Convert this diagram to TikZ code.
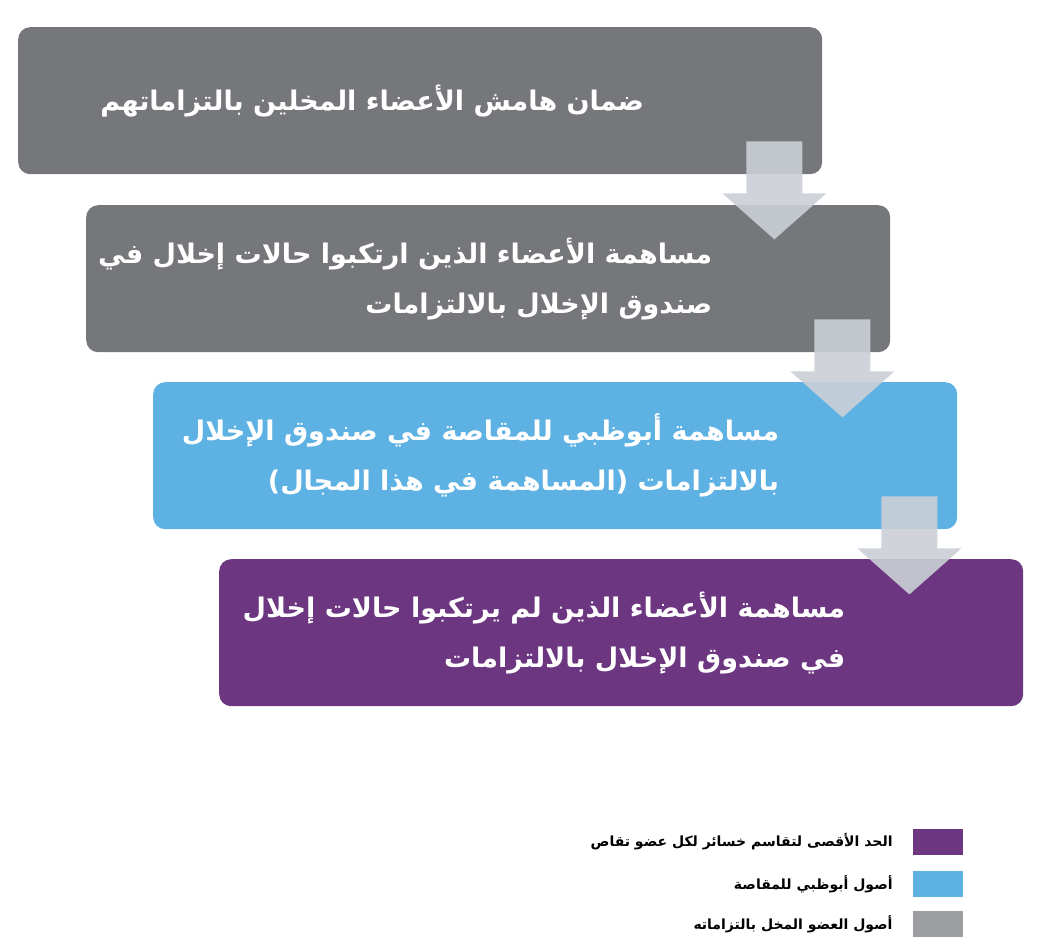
\documentclass[tikz,border=0pt]{standalone}
\usepackage{fontspec}
\newfontfamily\arabicfont[Script=Arabic]{DejaVu Sans}
\TeXXeTstate=1
\usetikzlibrary{positioning,calc}
\definecolor{stagegray}{HTML}{76777B}
\definecolor{stageblue}{HTML}{5EB1E3}
\definecolor{stagepurple}{HTML}{6C3681}
\definecolor{keygray}{HTML}{9D9EA2}
\definecolor{arrowgray}{HTML}{CBCFD6}
\tikzset{
  stage/.style={fill=#1, rounded corners=12pt, minimum width=804pt, minimum height=147pt, anchor=north west, inner sep=0pt},
  stagetext/.style={text=white, align=right, inner sep=0pt, font=\arabicfont\bfseries\fontsize{27}{50}\selectfont},
  flowarrow/.style={fill=arrowgray, fill opacity=0.9},
  keybox/.style={fill=#1, minimum width=50pt, minimum height=26pt, inner sep=0pt},
  keytext/.style={inner sep=0pt, font=\arabicfont\bfseries\fontsize{14}{16}\selectfont}
}
\begin{document}
\begin{tikzpicture}[x=1pt, y=-1pt, line join=round]
\useasboundingbox (0,0) rectangle (1045,949);

% stages
\node[stage=stagegray] (s1) at (18,27) {};
\node[stage=stagegray] (s2) at (86,205) {};
\node[stage=stageblue] (s3) at (153,382) {};
\node[stage=stagepurple] (s4) at (219,559) {};

\node[stagetext, left=178pt of s1.east, anchor=east] (t1) {\beginR ضمان هامش الأعضاء المخلين بالتزاماتهم\endR};
\node[stagetext, left=178pt of s2.east, anchor=east] (t2) {\beginR مساهمة الأعضاء الذين ارتكبوا حالات إخلال في\endR\\\beginR صندوق الإخلال بالالتزامات\endR};
\node[stagetext, left=178pt of s3.east, anchor=east] (t3) {\beginR مساهمة أبوظبي للمقاصة في صندوق الإخلال\endR\\\beginR بالالتزامات (المساهمة في هذا المجال)\endR};
\node[stagetext, left=178pt of s4.east, anchor=east] (t4) {\beginR مساهمة الأعضاء الذين لم يرتكبوا حالات إخلال\endR\\\beginR في صندوق الإخلال بالالتزامات\endR};

% arrows between stages
\foreach \a/\b in {s1/s2,s2/s3,s3/s4}{
  \fill[flowarrow] ($(\a.south east)+(-76,-33)$) -- ++(56,0) -- ++(0,52) -- ++(24,0) -- ++(-52,46) -- ++(-52,-46) -- ++(24,0) -- cycle;
}

% legend
\node[keybox=stagepurple] (k1) at (938,842) {};
\node[keybox=stageblue] (k2) at (938,884) {};
\node[keybox=keygray] (k3) at (938,924) {};
\node[keytext, left=20pt of k1] (l1) {\beginR الحد الأقصى لتقاسم خسائر لكل عضو تقاص\endR};
\node[keytext, left=20pt of k2] (l2) {\beginR أصول أبوظبي للمقاصة\endR};
\node[keytext, left=20pt of k3] (l3) {\beginR أصول العضو المخل بالتزاماته\endR};
\end{tikzpicture}
\end{document}
